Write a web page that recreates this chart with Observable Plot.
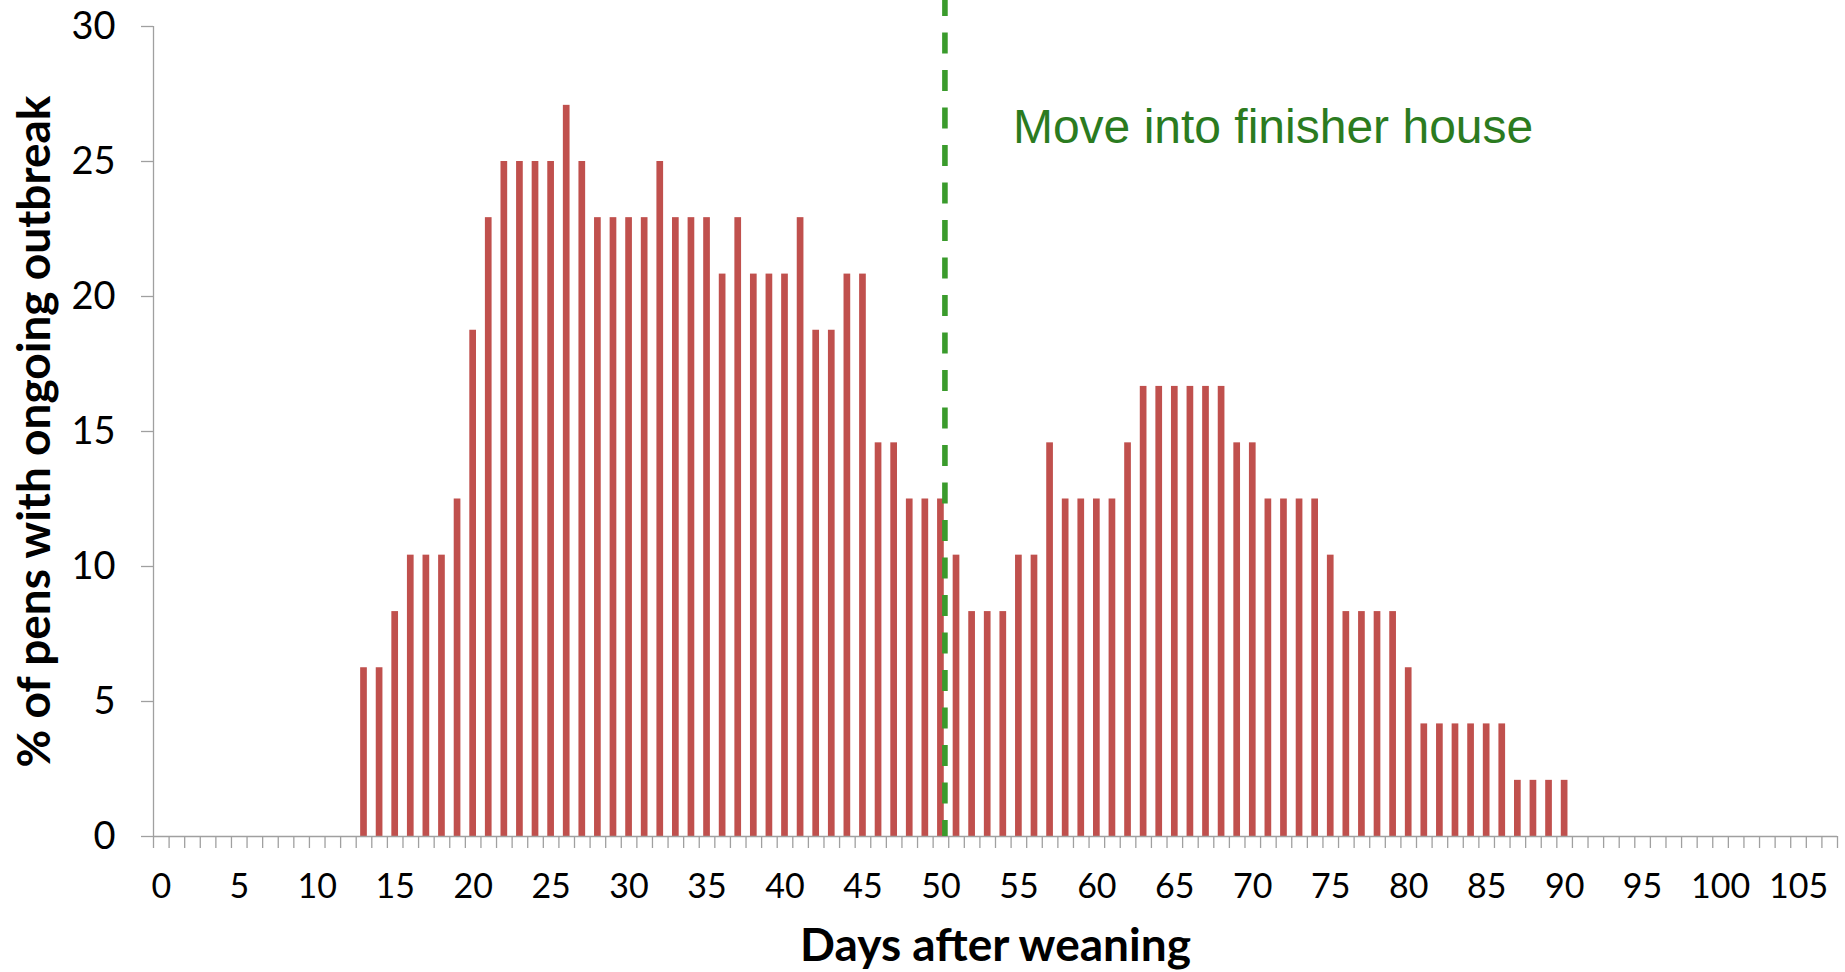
<!DOCTYPE html>
<html>
<head>
<meta charset="utf-8">
<script src="https://cdn.jsdelivr.net/npm/d3@7"></script>
<script src="https://cdn.jsdelivr.net/npm/@observablehq/plot@0.6"></script>
<style>
  html, body { margin: 0; padding: 0; background: #ffffff; }
  #chart svg { display: block; }
</style>
</head>
<body>
<div id="chart"></div>
<script>
// ---- data ----
const firstDay = 13;          // first day with an ongoing outbreak
const lastAxisDay = 107;      // last category on the day axis
const pctOutbreak = [
  6.25, 6.25, 8.33, 10.42, 10.42, 10.42, 12.5, 18.75, 22.92, 25,      // days 13-22
  25, 25, 25, 27.08, 25, 22.92, 22.92, 22.92, 22.92, 25,             // days 23-32
  22.92, 22.92, 22.92, 20.83, 22.92, 20.83, 20.83, 20.83, 22.92, 18.75, // days 33-42
  18.75, 20.83, 20.83, 14.58, 14.58, 12.5, 12.5, 12.5, 10.42, 8.33,   // days 43-52
  8.33, 8.33, 10.42, 10.42, 14.58, 12.5, 12.5, 12.5, 12.5, 14.58,     // days 53-62
  16.67, 16.67, 16.67, 16.67, 16.67, 16.67, 14.58, 14.58, 12.5, 12.5, // days 63-72
  12.5, 12.5, 10.42, 8.33, 8.33, 8.33, 8.33, 6.25, 4.17, 4.17,        // days 73-82
  4.17, 4.17, 4.17, 4.17, 2.08, 2.08, 2.08, 2.08                      // days 83-90
];
const xTickLabels = [0, 5, 10, 15, 20, 25, 30, 35, 40, 45, 50, 55, 60, 65, 70, 75, 80, 85, 90, 95, 100, 105];
const yTickLabels = [0, 5, 10, 15, 20, 25, 30];
const moveDay = 50;
const moveLabel = "Move into finisher house";
const xTitle = "Days after weaning";
const yTitle = "% of pens with ongoing outbreak";

// ---- derived tables ----
const data = pctOutbreak.map((v, i) => ({day: firstDay + i, pct: v}));
const allDays = d3.range(0, lastAxisDay + 1);
const boundaries = allDays.map(d => d - 0.5).concat([lastAxisDay + 0.5]);

const barColor = "#C0504D";
const axisGray = "#A0A0A0";
const lineGreen = "#3A9B2C";
const textGreen = "#2B7B1F";
const calibriLike = "Lato, 'Open Sans', sans-serif";

const chart = Plot.plot({
  width: 1845,
  height: 972,
  marginLeft: 153,
  marginRight: 8,
  marginTop: 26,
  marginBottom: 136,
  style: {fontFamily: calibriLike, background: "#ffffff", color: "#000000", overflow: "visible"},
  x: {type: "linear", domain: [boundaries[0], boundaries[boundaries.length - 1]], axis: null},
  y: {domain: [0, 30], axis: null},
  marks: [
    Plot.rectY(data, {
      x1: d => d.day - 0.5,
      x2: d => d.day + 0.5,
      y: "pct",
      fill: barColor,
      insetLeft: 4.45,
      insetRight: 4.45
    }),
    // axes lines
    Plot.ruleY([0], {stroke: axisGray, strokeWidth: 1.3}),
    Plot.ruleX([boundaries[0]], {stroke: axisGray, strokeWidth: 1.3}),
    // x ticks between categories
    Plot.axisX(boundaries, {tickSize: 12, tickFormat: () => "", stroke: axisGray, strokeWidth: 1.3, label: null}),
    // x tick labels
    Plot.axisX(xTickLabels, {tickSize: 0, tickPadding: 37, fontSize: 34, fill: "#000", label: null}),
    // y axis
    Plot.axisY(yTickLabels, {tickSize: 12, tickPadding: 26, fontSize: 38, stroke: axisGray, strokeWidth: 1.3, fill: "#000", label: null}),
    // move line
    Plot.ruleX([moveDay], {
      x: d => d,
      stroke: lineGreen,
      strokeWidth: 5.6,
      strokeDasharray: "21,16.5",
      strokeDashoffset: 5,
      insetTop: -26,
      dx: 4
    }),
    Plot.text([moveLabel], {
      x: () => moveDay,
      frameAnchor: "top",
      dy: 82,
      dx: 72,
      text: d => d,
      textAnchor: "start",
      fill: textGreen,
      fontSize: 48,
      fontFamily: "'Liberation Sans', Arial, sans-serif"
    }),
    // axis titles
    Plot.text([xTitle], {
      frameAnchor: "bottom",
      dy: 124,
      text: d => d,
      fontSize: 46,
      fontWeight: "bold",
      fill: "#000"
    }),
    Plot.text([yTitle], {
      frameAnchor: "left",
      textAnchor: "middle",
      dx: -118,
      rotate: -90,
      text: d => d,
      fontSize: 46,
      fontWeight: "bold",
      fill: "#000"
    })
  ]
});
document.getElementById("chart").appendChild(chart);
</script>
</body>
</html>
